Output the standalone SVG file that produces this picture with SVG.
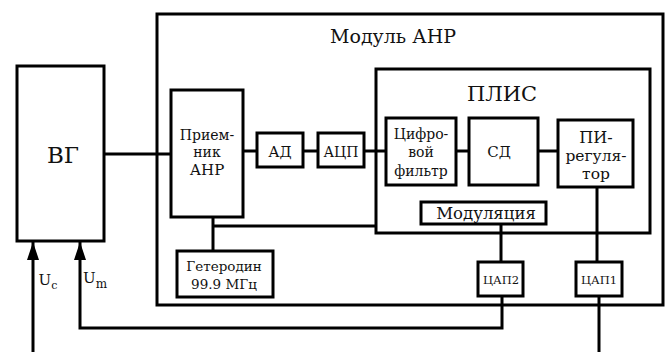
<svg xmlns="http://www.w3.org/2000/svg" width="668" height="352" viewBox="0 0 668 352">
<defs>
<style>
.b{fill:#fff;stroke:#000;stroke-width:3}
.f{fill:none;stroke:#000;stroke-width:3}
.w{fill:none;stroke:#000;stroke-width:3}
text{fill:#111;text-anchor:middle;font-family:'DejaVu Serif','Liberation Serif',serif}
</style>
<marker id="ar" markerWidth="18" markerHeight="12" refX="18" refY="6" orient="auto" markerUnits="userSpaceOnUse" viewBox="0 0 18 12">
<path d="M0 0 L18 6 L0 12 Z" fill="#000"/>
</marker>
</defs>
<rect width="668" height="352" fill="#fff"/>
<g id="module"><rect class="f" x="157" y="14" width="506" height="291"/><text x="393" y="43" font-size="19">Модуль АНР</text></g>
<g id="plis"><rect class="f" x="376" y="69" width="274" height="164"/><text x="502" y="101" font-size="21">ПЛИС</text></g>
<g id="connectors">
<path class="w" d="M104 154 H171"/>
<path class="w" d="M243 151 H257"/>
<path class="w" d="M303 151 H318"/>
<path class="w" d="M364 151 H386"/>
<path class="w" d="M456 151 H469"/>
<path class="w" d="M538 151 H558"/>
<path class="w" d="M213 217 V251"/>
<path class="w" d="M213 226 H376"/>
<path class="w" d="M501 224 V262"/>
<path class="w" d="M597 187 V262"/>
<path class="w" d="M599 296 V352"/>
<path class="w" d="M502 296 V328 H80 V242" marker-end="url(#ar)"/>
<path class="w" d="M33 352 V242" marker-end="url(#ar)"/>
</g>
<g id="vg"><rect class="b" x="17" y="66" width="87" height="175"/><text x="63" y="163" font-size="23">ВГ</text></g>
<g id="priemnik"><rect class="b" x="171" y="90" width="72" height="127"/><text x="207" y="140" font-size="14">Прием-</text><text x="207" y="157" font-size="14">ник</text><text x="207" y="175" font-size="15">АНР</text></g>
<g id="ad"><rect class="b" x="257" y="133" width="46" height="34"/><text x="280" y="157" font-size="15">АД</text></g>
<g id="acp"><rect class="b" x="318" y="133" width="46" height="34"/><text x="341" y="157" font-size="14">АЦП</text></g>
<g id="filter"><rect class="b" x="386" y="118" width="70" height="67"/><text x="421" y="139" font-size="14">Цифро-</text><text x="421" y="157" font-size="14">вой</text><text x="421" y="176" font-size="14">фильтр</text></g>
<g id="sd"><rect class="b" x="469" y="118" width="69" height="67"/><text x="499" y="157" font-size="15">СД</text></g>
<g id="pi"><rect class="b" x="558" y="120" width="75" height="67"/><text x="596" y="143" font-size="16">ПИ-</text><text x="596" y="161" font-size="15.5">регуля-</text><text x="596" y="179" font-size="15.5">тор</text></g>
<g id="mod"><rect class="b" x="421" y="202" width="125" height="22"/><text x="486" y="219" font-size="16.5">Модуляция</text></g>
<g id="get"><rect class="b" x="177" y="251" width="96" height="46"/><text x="224" y="271" font-size="13.5">Гетеродин</text><text x="224" y="289" font-size="13.5">99.9 МГц</text></g>
<g id="cap2"><rect class="b" x="478" y="262" width="45" height="34"/><text x="501" y="284" font-size="11.5">ЦАП2</text></g>
<g id="cap1"><rect class="b" x="576" y="262" width="46" height="34"/><text x="599" y="284" font-size="11.5">ЦАП1</text></g>
<g id="labels"><text x="48" y="285" font-size="15">U<tspan dy="4" font-size="11">c</tspan></text><text x="95" y="283" font-size="15">U<tspan dy="5" font-size="12">m</tspan></text></g>
</svg>
